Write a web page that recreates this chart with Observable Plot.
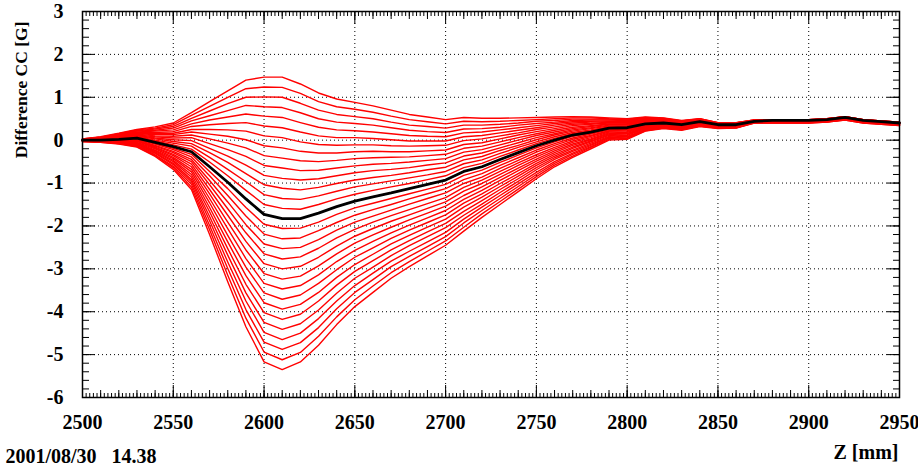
<!DOCTYPE html>
<html><head><meta charset="utf-8">
<script src="https://cdn.jsdelivr.net/npm/d3@7"></script>
<script src="https://cdn.jsdelivr.net/npm/@observablehq/plot@0.6"></script>
<style>
html,body{margin:0;padding:0;background:#fff;}
#chart svg{display:block;}
</style></head><body><div id="chart"></div>
<script>
// Z positions (mm) of the sampled points
const zPositions = [2500,2510,2520,2530,2540,2550,2560,2570,2580,2590,2600,2610,2620,2630,2640,2650,2660,2670,2680,2690,2700,2710,2720,2730,2740,2750,2760,2770,2780,2790,2800,2810,2820,2830,2840,2850,2860,2870,2880,2890,2900,2910,2920,2930,2940,2950];
// highlighted (black) curve, Difference CC [G]
const blackCurve = [0.00,0.00,0.02,0.05,-0.05,-0.15,-0.27,-0.62,-0.98,-1.37,-1.73,-1.83,-1.83,-1.70,-1.55,-1.42,-1.32,-1.23,-1.13,-1.03,-0.93,-0.73,-0.62,-0.45,-0.29,-0.13,0.00,0.12,0.19,0.28,0.29,0.38,0.40,0.36,0.43,0.36,0.36,0.44,0.46,0.46,0.46,0.48,0.53,0.46,0.43,0.40];
// red curves: one row per Z position, one column per curve (bottom to top)
const redCurvesAtZ = [
[-0.03,-0.03,-0.03,-0.02,-0.02,-0.02,-0.02,-0.02,-0.01,-0.01,-0.01,-0.01,-0.01,0,0,0,0,0,0.01,0.01,0.01,0.01,0.02,0.02,0.02,0.02,0.02,0.03,0.03,0.03],
[-0.05,-0.05,-0.04,-0.04,-0.04,-0.03,-0.03,-0.03,-0.02,-0.02,-0.02,-0.01,-0.01,-0.01,0,0,0.01,0.01,0.02,0.02,0.03,0.03,0.04,0.05,0.05,0.06,0.06,0.07,0.07,0.08],
[-0.09,-0.08,-0.08,-0.07,-0.06,-0.05,-0.05,-0.04,-0.03,-0.02,-0.02,-0.01,0,0.01,0.01,0.02,0.03,0.04,0.05,0.06,0.07,0.08,0.09,0.10,0.11,0.12,0.13,0.14,0.15,0.16],
[-0.16,-0.15,-0.13,-0.12,-0.10,-0.09,-0.08,-0.06,-0.05,-0.03,-0.02,-0.01,0.01,0.02,0.04,0.05,0.06,0.08,0.09,0.11,0.12,0.14,0.15,0.16,0.18,0.19,0.21,0.22,0.24,0.25],
[-0.38,-0.36,-0.34,-0.31,-0.29,-0.27,-0.25,-0.23,-0.20,-0.18,-0.16,-0.14,-0.12,-0.09,-0.07,-0.05,-0.02,0.00,0.03,0.05,0.08,0.10,0.13,0.16,0.18,0.21,0.23,0.26,0.28,0.31],
[-0.68,-0.64,-0.61,-0.57,-0.54,-0.50,-0.47,-0.43,-0.40,-0.36,-0.33,-0.29,-0.26,-0.22,-0.19,-0.15,-0.11,-0.07,-0.03,0.01,0.05,0.09,0.13,0.16,0.20,0.24,0.28,0.32,0.36,0.40],
[-1.15,-1.09,-1.03,-0.97,-0.92,-0.86,-0.80,-0.74,-0.68,-0.62,-0.56,-0.50,-0.45,-0.39,-0.33,-0.27,-0.21,-0.14,-0.08,-0.01,0.06,0.12,0.19,0.25,0.32,0.38,0.45,0.51,0.58,0.64],
[-2.20,-2.09,-1.99,-1.88,-1.78,-1.67,-1.57,-1.46,-1.36,-1.25,-1.15,-1.04,-0.94,-0.83,-0.73,-0.62,-0.51,-0.40,-0.29,-0.19,-0.08,0.03,0.14,0.25,0.36,0.47,0.57,0.68,0.79,0.90],
[-3.30,-3.15,-2.99,-2.84,-2.68,-2.53,-2.37,-2.22,-2.06,-1.91,-1.75,-1.60,-1.44,-1.29,-1.13,-0.98,-0.83,-0.68,-0.52,-0.37,-0.22,-0.07,0.09,0.24,0.39,0.54,0.69,0.85,1.00,1.15],
[-4.35,-4.15,-3.95,-3.75,-3.56,-3.36,-3.16,-2.96,-2.76,-2.56,-2.36,-2.16,-1.97,-1.77,-1.57,-1.37,-1.17,-0.97,-0.78,-0.58,-0.38,-0.18,0.01,0.21,0.41,0.61,0.81,1.00,1.20,1.40],
[-5.17,-4.94,-4.71,-4.48,-4.25,-4.02,-3.79,-3.56,-3.34,-3.11,-2.88,-2.65,-2.42,-2.19,-1.96,-1.73,-1.50,-1.27,-1.04,-0.82,-0.59,-0.36,-0.13,0.10,0.33,0.56,0.78,1.01,1.24,1.47],
[-5.35,-5.12,-4.88,-4.65,-4.41,-4.18,-3.94,-3.71,-3.47,-3.24,-3.00,-2.77,-2.53,-2.30,-2.06,-1.83,-1.59,-1.36,-1.12,-0.89,-0.65,-0.42,-0.18,0.06,0.29,0.53,0.76,1.00,1.23,1.47],
[-5.17,-4.95,-4.72,-4.50,-4.28,-4.06,-3.83,-3.61,-3.39,-3.17,-2.94,-2.72,-2.50,-2.28,-2.05,-1.83,-1.61,-1.38,-1.16,-0.93,-0.71,-0.48,-0.26,-0.04,0.19,0.41,0.64,0.86,1.09,1.31],
[-4.78,-4.57,-4.37,-4.16,-3.96,-3.75,-3.55,-3.34,-3.14,-2.93,-2.73,-2.52,-2.32,-2.11,-1.91,-1.70,-1.50,-1.30,-1.10,-0.90,-0.70,-0.50,-0.30,-0.10,0.10,0.30,0.50,0.70,0.90,1.10],
[-4.30,-4.12,-3.93,-3.75,-3.57,-3.38,-3.20,-3.02,-2.83,-2.65,-2.47,-2.28,-2.10,-1.92,-1.73,-1.55,-1.37,-1.19,-1.01,-0.83,-0.65,-0.47,-0.30,-0.12,0.06,0.24,0.42,0.60,0.78,0.96],
[-3.88,-3.72,-3.55,-3.39,-3.22,-3.06,-2.90,-2.73,-2.57,-2.40,-2.24,-2.08,-1.91,-1.75,-1.58,-1.42,-1.26,-1.09,-0.93,-0.76,-0.60,-0.43,-0.27,-0.11,0.06,0.22,0.39,0.55,0.72,0.88],
[-3.55,-3.40,-3.25,-3.10,-2.96,-2.81,-2.66,-2.51,-2.36,-2.21,-2.06,-1.91,-1.77,-1.62,-1.47,-1.32,-1.17,-1.02,-0.87,-0.71,-0.56,-0.41,-0.26,-0.11,0.04,0.19,0.35,0.50,0.65,0.80],
[-3.22,-3.09,-2.95,-2.82,-2.69,-2.56,-2.42,-2.29,-2.16,-2.03,-1.89,-1.76,-1.63,-1.50,-1.36,-1.23,-1.09,-0.95,-0.82,-0.68,-0.54,-0.40,-0.27,-0.13,0.01,0.15,0.29,0.42,0.56,0.70],
[-2.95,-2.83,-2.71,-2.59,-2.46,-2.34,-2.22,-2.10,-1.98,-1.86,-1.74,-1.62,-1.49,-1.37,-1.25,-1.13,-1.01,-0.88,-0.76,-0.64,-0.51,-0.39,-0.27,-0.14,-0.02,0.11,0.23,0.35,0.48,0.60],
[-2.70,-2.59,-2.48,-2.37,-2.25,-2.14,-2.03,-1.92,-1.81,-1.70,-1.59,-1.48,-1.36,-1.25,-1.14,-1.03,-0.92,-0.81,-0.69,-0.58,-0.47,-0.36,-0.25,-0.13,-0.02,0.09,0.20,0.32,0.43,0.54],
[-2.45,-2.35,-2.25,-2.15,-2.04,-1.94,-1.84,-1.74,-1.64,-1.54,-1.44,-1.34,-1.23,-1.13,-1.03,-0.93,-0.83,-0.73,-0.63,-0.53,-0.43,-0.33,-0.23,-0.12,-0.02,0.08,0.18,0.28,0.38,0.48],
[-2.12,-2.03,-1.93,-1.84,-1.75,-1.66,-1.56,-1.47,-1.38,-1.29,-1.19,-1.10,-1.01,-0.92,-0.82,-0.73,-0.64,-0.55,-0.46,-0.37,-0.28,-0.19,-0.10,-0.01,0.08,0.17,0.26,0.35,0.44,0.53],
[-1.80,-1.72,-1.64,-1.56,-1.49,-1.41,-1.33,-1.25,-1.17,-1.09,-1.01,-0.93,-0.86,-0.78,-0.70,-0.62,-0.54,-0.46,-0.38,-0.30,-0.22,-0.14,-0.06,0.03,0.11,0.19,0.27,0.35,0.43,0.51],
[-1.50,-1.43,-1.36,-1.29,-1.22,-1.15,-1.08,-1.01,-0.94,-0.87,-0.80,-0.73,-0.66,-0.59,-0.52,-0.45,-0.38,-0.31,-0.24,-0.18,-0.11,-0.04,0.03,0.10,0.17,0.24,0.30,0.37,0.44,0.51],
[-1.20,-1.14,-1.08,-1.02,-0.96,-0.90,-0.84,-0.78,-0.71,-0.65,-0.59,-0.53,-0.47,-0.41,-0.35,-0.29,-0.23,-0.17,-0.12,-0.06,0.00,0.06,0.12,0.17,0.23,0.29,0.35,0.40,0.46,0.52],
[-0.90,-0.85,-0.80,-0.75,-0.69,-0.64,-0.59,-0.54,-0.49,-0.44,-0.39,-0.34,-0.28,-0.23,-0.18,-0.13,-0.08,-0.04,0.01,0.06,0.11,0.15,0.20,0.25,0.29,0.34,0.39,0.44,0.48,0.53],
[-0.62,-0.58,-0.54,-0.50,-0.45,-0.41,-0.37,-0.33,-0.29,-0.25,-0.21,-0.17,-0.12,-0.08,-0.04,0.00,0.04,0.08,0.12,0.15,0.19,0.23,0.27,0.31,0.35,0.39,0.42,0.46,0.50,0.54],
[-0.40,-0.37,-0.33,-0.30,-0.26,-0.23,-0.19,-0.16,-0.12,-0.09,-0.05,-0.02,0.02,0.05,0.09,0.12,0.15,0.18,0.21,0.24,0.27,0.30,0.34,0.37,0.40,0.43,0.46,0.49,0.52,0.55],
[-0.20,-0.17,-0.15,-0.12,-0.10,-0.07,-0.04,-0.02,0.01,0.03,0.06,0.09,0.11,0.14,0.16,0.19,0.22,0.24,0.27,0.29,0.32,0.34,0.37,0.39,0.42,0.44,0.47,0.49,0.52,0.54],
[0.00,0.02,0.04,0.06,0.07,0.09,0.11,0.13,0.15,0.17,0.19,0.21,0.22,0.24,0.26,0.28,0.30,0.31,0.33,0.35,0.37,0.38,0.40,0.42,0.43,0.45,0.47,0.49,0.50,0.52],
[0.02,0.04,0.06,0.07,0.09,0.11,0.13,0.15,0.16,0.18,0.20,0.22,0.24,0.25,0.27,0.29,0.31,0.32,0.34,0.35,0.37,0.38,0.40,0.41,0.43,0.44,0.46,0.47,0.49,0.50],
[0.21,0.22,0.23,0.24,0.25,0.27,0.28,0.29,0.30,0.31,0.32,0.33,0.35,0.36,0.37,0.38,0.39,0.40,0.41,0.43,0.44,0.45,0.46,0.47,0.48,0.49,0.51,0.52,0.53,0.54],
[0.27,0.28,0.29,0.30,0.30,0.31,0.32,0.33,0.34,0.35,0.36,0.37,0.37,0.38,0.39,0.40,0.41,0.42,0.43,0.43,0.44,0.45,0.46,0.47,0.48,0.49,0.49,0.50,0.51,0.52],
[0.23,0.24,0.25,0.26,0.26,0.27,0.28,0.29,0.30,0.31,0.32,0.33,0.33,0.34,0.35,0.36,0.37,0.37,0.38,0.39,0.40,0.40,0.41,0.42,0.42,0.43,0.44,0.45,0.45,0.46],
[0.32,0.33,0.33,0.34,0.35,0.36,0.36,0.37,0.38,0.39,0.39,0.40,0.41,0.42,0.42,0.43,0.44,0.44,0.45,0.45,0.46,0.46,0.47,0.47,0.48,0.48,0.49,0.49,0.50,0.50],
[0.27,0.28,0.28,0.29,0.29,0.30,0.31,0.31,0.32,0.32,0.33,0.34,0.34,0.35,0.35,0.36,0.36,0.37,0.37,0.37,0.38,0.38,0.39,0.39,0.39,0.40,0.40,0.40,0.41,0.41],
[0.28,0.29,0.29,0.30,0.30,0.31,0.31,0.32,0.32,0.33,0.33,0.34,0.34,0.35,0.35,0.36,0.36,0.37,0.37,0.37,0.38,0.38,0.39,0.39,0.39,0.40,0.40,0.40,0.41,0.41],
[0.40,0.40,0.41,0.41,0.41,0.41,0.42,0.42,0.42,0.42,0.43,0.43,0.43,0.44,0.44,0.44,0.44,0.44,0.45,0.45,0.45,0.45,0.46,0.46,0.46,0.46,0.46,0.47,0.47,0.47],
[0.40,0.40,0.41,0.41,0.42,0.42,0.42,0.43,0.43,0.44,0.44,0.44,0.45,0.45,0.46,0.46,0.46,0.46,0.46,0.47,0.47,0.47,0.47,0.47,0.47,0.47,0.48,0.48,0.48,0.48],
[0.40,0.40,0.41,0.41,0.42,0.42,0.42,0.43,0.43,0.44,0.44,0.44,0.45,0.45,0.46,0.46,0.46,0.46,0.46,0.47,0.47,0.47,0.47,0.47,0.47,0.47,0.48,0.48,0.48,0.48],
[0.40,0.40,0.41,0.41,0.42,0.42,0.42,0.43,0.43,0.44,0.44,0.44,0.45,0.45,0.46,0.46,0.46,0.46,0.46,0.47,0.47,0.47,0.47,0.47,0.47,0.47,0.48,0.48,0.48,0.48],
[0.42,0.42,0.43,0.43,0.44,0.44,0.44,0.45,0.45,0.46,0.46,0.46,0.47,0.47,0.48,0.48,0.48,0.48,0.48,0.49,0.49,0.49,0.49,0.49,0.49,0.49,0.50,0.50,0.50,0.50],
[0.47,0.47,0.48,0.48,0.49,0.49,0.49,0.50,0.50,0.51,0.51,0.51,0.52,0.52,0.53,0.53,0.53,0.53,0.53,0.54,0.54,0.54,0.54,0.54,0.54,0.54,0.55,0.55,0.55,0.55],
[0.40,0.40,0.41,0.41,0.42,0.42,0.42,0.43,0.43,0.44,0.44,0.44,0.45,0.45,0.46,0.46,0.46,0.46,0.46,0.47,0.47,0.47,0.47,0.47,0.47,0.47,0.48,0.48,0.48,0.48],
[0.37,0.37,0.38,0.38,0.39,0.39,0.39,0.40,0.40,0.41,0.41,0.41,0.42,0.42,0.43,0.43,0.43,0.43,0.43,0.44,0.44,0.44,0.44,0.44,0.44,0.44,0.45,0.45,0.45,0.45],
[0.34,0.34,0.35,0.35,0.36,0.36,0.36,0.37,0.37,0.38,0.38,0.38,0.39,0.39,0.40,0.40,0.40,0.40,0.40,0.41,0.41,0.41,0.41,0.41,0.41,0.41,0.42,0.42,0.42,0.42]
];
const xTickLabels = [2500,2550,2600,2650,2700,2750,2800,2850,2900,2950];
const yTickLabels = [3,2,1,0,-1,-2,-3,-4,-5,-6];
const xTitle = "Z [mm]";
const yTitle = "Difference CC [G]";
const dateStamp = "2001/08/30\u00a0\u00a0\u00a014.38";

const serif = "'Liberation Serif','Times New Roman',serif";
const redRows = [];
redCurvesAtZ.forEach((row, i) => row.forEach((v, c) => redRows.push({z: zPositions[i], v, curve: c})));
const blackRows = zPositions.map((z, i) => ({z, v: blackCurve[i]}));
const xMinor = d3.range(2500, 2951, 10);
const xTiny = d3.range(2500, 2951, 2);
const yMinor = d3.range(-6, 3.001, 0.2).map(d => Math.round(d * 10) / 10);
const fmt = d => String(d);
const noText = () => "";

const chart = Plot.plot({
  width: 918, height: 465,
  marginLeft: 82, marginRight: 19, marginTop: 11, marginBottom: 68,
  x: {domain: [2500, 2950]},
  y: {domain: [-6, 3]},
  style: {fontFamily: serif, fontWeight: "bold", fontSize: "20px", color: "black", background: "white", overflow: "visible"},
  marks: [
    Plot.gridX(xTickLabels.slice(1, -1), {stroke: "black", strokeOpacity: 1, strokeWidth: 1, strokeDasharray: "1,3"}),
    Plot.gridY(yTickLabels.slice(1, -1), {stroke: "black", strokeOpacity: 1, strokeWidth: 1, strokeDasharray: "1,3"}),
    Plot.line(redRows, {x: "z", y: "v", z: "curve", stroke: "#ff0000", strokeWidth: 1.4}),
    Plot.line(blackRows, {x: "z", y: "v", stroke: "black", strokeWidth: 2.8}),
    Plot.frame({stroke: "black", strokeWidth: 1.5}),
    // inward tick marks
    Plot.axisX({ticks: xTickLabels, anchor: "bottom", tickSize: -12, tickFormat: noText, label: null}),
    Plot.axisX({ticks: xMinor, anchor: "bottom", tickSize: -7, tickFormat: noText, label: null}),
    Plot.axisX({ticks: xTiny, anchor: "bottom", tickSize: -4, tickFormat: noText, label: null}),
    Plot.axisX({ticks: xTickLabels, anchor: "top", tickSize: -12, tickFormat: noText, label: null}),
    Plot.axisX({ticks: xMinor, anchor: "top", tickSize: -7, tickFormat: noText, label: null}),
    Plot.axisX({ticks: xTiny, anchor: "top", tickSize: -4, tickFormat: noText, label: null}),
    Plot.axisY({ticks: yTickLabels, anchor: "left", tickSize: -13, tickFormat: noText, label: null}),
    Plot.axisY({ticks: yMinor, anchor: "left", tickSize: -7, tickFormat: noText, label: null}),
    Plot.axisY({ticks: yTickLabels, anchor: "right", tickSize: -13, tickFormat: noText, label: null}),
    Plot.axisY({ticks: yMinor, anchor: "right", tickSize: -7, tickFormat: noText, label: null}),
    // labels
    Plot.axisX({ticks: xTickLabels, anchor: "bottom", tickSize: 0, tickPadding: 17, tickFormat: fmt, label: null, fontSize: 20}),
    Plot.axisY({ticks: yTickLabels, anchor: "left", tickSize: 0, tickPadding: 19, tickFormat: fmt, label: null, fontSize: 20}),
    Plot.text([yTitle], {frameAnchor: "top-left", dx: -68, dy: 10, rotate: -90, textAnchor: "end", fontSize: 17.5, fontWeight: "bold"}),
    Plot.text([xTitle], {frameAnchor: "bottom-right", dx: -1, dy: 61, textAnchor: "end", fontSize: 20, fontWeight: "bold"}),
    Plot.text([dateStamp], {frameAnchor: "bottom-left", dx: -77, dy: 65, textAnchor: "start", fontSize: 20, fontWeight: "bold"})
  ]
});
document.getElementById("chart").appendChild(chart);
</script>
</body></html>
